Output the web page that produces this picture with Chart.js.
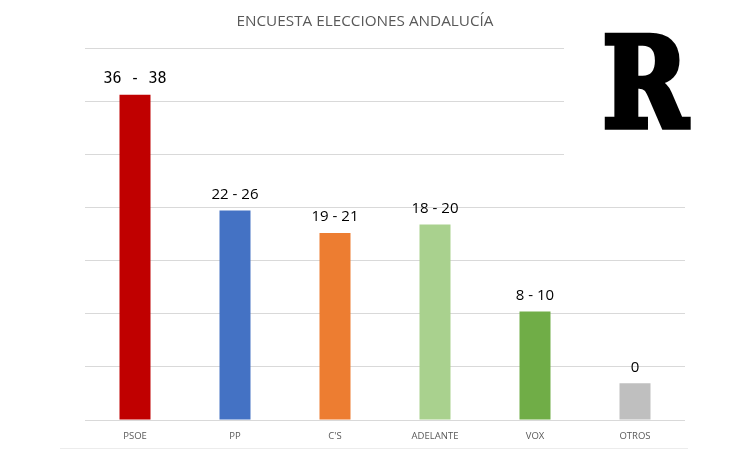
<!DOCTYPE html>
<html>
<head>
<meta charset="utf-8">
<script src="https://cdn.jsdelivr.net/npm/chart.js@4/dist/chart.umd.min.js"></script>
<style>
html,body{margin:0;padding:0;background:#fff;}
#wrap{width:730px;height:450px;position:relative;}
</style>
</head>
<body>
<div id="wrap"><canvas id="c" width="730" height="450"></canvas></div>
<script>
const chartTitle = "ENCUESTA ELECCIONES ANDALUCÍA";
const categories = ["PSOE", "PP", "C'S", "ADELANTE", "VOX", "OTROS"];
const voteShare = [30.6, 19.7, 17.6, 18.4, 10.2, 3.45];
const seatRanges = ["36 - 38", "22 - 26", "19 - 21", "18 - 20", "8 - 10", "0"];
const barColors = ["#C00000", "#4472C4", "#ED7D31", "#A9D18E", "#70AD47", "#BFBFBF"];
const logoText = "R";

const extras = {
  id: 'extras',
  beforeDatasetsDraw(chart) {
    const ctx = chart.ctx;
    ctx.save();
    ctx.fillStyle = '#fff';
    ctx.fillRect(564, 0, 166, 190);
    ctx.restore();
  },
  afterDraw(chart) {
    const ctx = chart.ctx;
    ctx.save();
    // title
    ctx.fillStyle = '#595959';
    ctx.font = '14px "Open Sans"';
    ctx.textAlign = 'center';
    ctx.textBaseline = 'middle';
    const tw = ctx.measureText(chartTitle).width;
    ctx.save();
    ctx.translate(365, 22);
    ctx.scale(257 / tw, 1);
    ctx.fillText(chartTitle, 0, 0);
    ctx.restore();

    // value labels
    const meta = chart.getDatasetMeta(0);
    meta.data.forEach((bar, i) => {
      ctx.fillStyle = '#000';
      ctx.font = i === 0 ? '15px "DejaVu Sans Mono"' : '15px "Open Sans"';
      ctx.textAlign = 'center';
      ctx.textBaseline = 'middle';
      ctx.fillText(seatRanges[i], bar.x, bar.y - 16);
    });

    // logo R (heavy slab) scaled into box
    const lw = 4.5;
    ctx.font = 'bold 100px "DejaVu Serif", "DejaVu Serif Condensed", "Liberation Serif", serif';
    ctx.textAlign = 'left';
    ctx.textBaseline = 'alphabetic';
    const m = ctx.measureText(logoText);
    const gw = m.actualBoundingBoxLeft + m.actualBoundingBoxRight + lw;
    const gh = m.actualBoundingBoxAscent + m.actualBoundingBoxDescent + lw;
    const bx = 604, by = 33, bw = 87, bh = 97;
    ctx.save();
    ctx.translate(bx, by);
    ctx.scale(bw / gw, bh / gh);
    ctx.fillStyle = '#000';
    ctx.strokeStyle = '#000';
    ctx.lineWidth = lw;
    ctx.lineJoin = 'miter';
    const ox = m.actualBoundingBoxLeft + lw / 2, oy = m.actualBoundingBoxAscent + lw / 2;
    ctx.fillText(logoText, ox, oy);
    ctx.strokeText(logoText, ox, oy);
    ctx.restore();

    // faint bottom border
    ctx.strokeStyle = '#ececec';
    ctx.lineWidth = 1;
    ctx.beginPath();
    ctx.moveTo(60, 448.5);
    ctx.lineTo(688, 448.5);
    ctx.stroke();
    ctx.restore();
  }
};

new Chart(document.getElementById('c'), {
  type: 'bar',
  data: {
    labels: categories,
    datasets: [{
      data: voteShare,
      backgroundColor: barColors,
      borderWidth: 0,
      categoryPercentage: 1,
      barPercentage: 0.31
    }]
  },
  options: {
    responsive: false,
    animation: false,
    devicePixelRatio: 1,
    layout: { padding: { left: 85, right: 45, top: 48, bottom: 0 } },
    plugins: { legend: { display: false }, title: { display: false }, tooltip: { enabled: false } },
    scales: {
      x: {
        grid: { display: false, drawTicks: false },
        border: { display: false },
        ticks: { color: '#595959', font: { family: '"Open Sans"', size: 9.5 }, padding: 11, maxRotation: 0 },
        afterFit(s) { s.height = 30; }
      },
      y: {
        min: 0, max: 35,
        ticks: { display: false, stepSize: 5 },
        grid: { color: '#D9D9D9', lineWidth: 1, drawTicks: false },
        border: { display: false },
        afterFit(s) { s.width = 0; }
      }
    }
  },
  plugins: [extras]
});
</script>
</body>
</html>
